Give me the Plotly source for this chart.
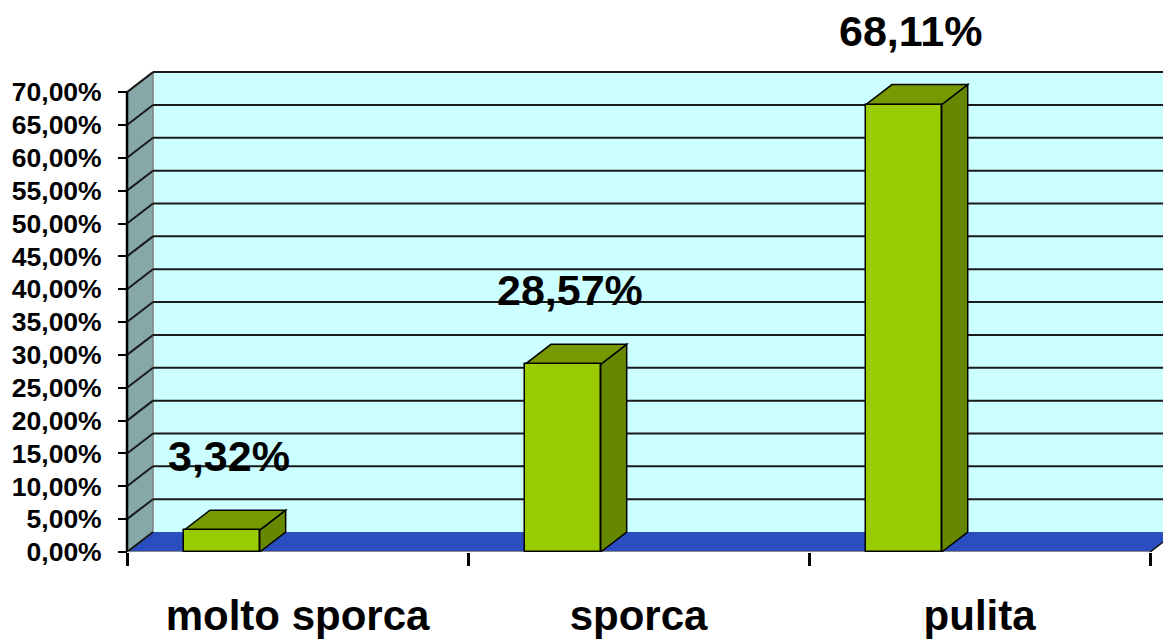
import plotly.graph_objects as go

# ---- data ----
categories = ["molto sporca", "sporca", "pulita"]
values = [0.0332, 0.2857, 0.6811]
y_ticks = [i * 0.05 for i in range(15)]  # 0,00% .. 70,00%

# ---- style constants ----
DX = 0.0762     # depth offset along x (data units)
DY = 0.0304     # depth offset along y (data units)
OFF = -0.333    # bar front-face left offset from category index
W = 0.222       # bar front-face width
X_MIN, X_MAX = -0.849, 2.5613
Y_MAX = 0.828
FONT = "Liberation Sans, Arial, sans-serif"

WALL = "#CCFFFF"
SIDE = "#86A8A8"
FLOOR = "#2A4DBF"
FRONT = "#99CC00"
TOP = "#779900"
RIGHT = "#668800"
GRID = "#1a1a1a"

n = len(categories)
xl, xr = -0.5, n - 0.5
ymax = y_ticks[-1]


def poly(pts):
    return "M " + " L ".join(f"{x},{y}" for x, y in pts) + " Z"


shapes = []
# back wall
shapes.append(dict(type="path", xref="x", yref="y", layer="below",
                   path=poly([(xl + DX, DY), (xr + DX, DY), (xr + DX, ymax + DY), (xl + DX, ymax + DY)]),
                   fillcolor=WALL, line=dict(width=0)))
# left side wall
shapes.append(dict(type="path", xref="x", yref="y", layer="below",
                   path=poly([(xl, 0), (xl, ymax), (xl + DX, ymax + DY), (xl + DX, DY)]),
                   fillcolor=SIDE, line=dict(width=0)))
# floor
shapes.append(dict(type="path", xref="x", yref="y", layer="below",
                   path=poly([(xl, 0), (xr, 0), (xr + DX, DY), (xl + DX, DY)]),
                   fillcolor=FLOOR, line=dict(width=0)))
# back wall left edge
shapes.append(dict(type="line", xref="x", yref="y", layer="below",
                   x0=xl + DX, x1=xl + DX, y0=DY, y1=ymax + DY,
                   line=dict(color="#808080", width=1.5)))
# gridlines
for t in y_ticks:
    if t > 0:
        shapes.append(dict(type="line", xref="x", yref="y", layer="below",
                           x0=xl + DX, x1=xr + DX + 0.2, y0=t + DY, y1=t + DY,
                           line=dict(color=GRID, width=2)))
    shapes.append(dict(type="line", xref="x", yref="y", layer="below",
                       x0=xl, x1=xl + DX, y0=t, y1=t + DY,
                       line=dict(color=GRID, width=2)))
# floor edges
shapes.append(dict(type="line", xref="x", yref="y", layer="below",
                   x0=xl, x1=xr, y0=0, y1=0, line=dict(color="#888888", width=2)))
shapes.append(dict(type="line", xref="x", yref="y", layer="below",
                   x0=xr, x1=xr + DX, y0=0, y1=DY, line=dict(color="#111111", width=1.5)))
# bar top and right faces
for i, v in enumerate(values):
    x0 = i + OFF
    x1 = x0 + W
    shapes.append(dict(type="path", xref="x", yref="y", layer="below",
                       path=poly([(x1, 0), (x1, v), (x1 + DX, v + DY), (x1 + DX, DY)]),
                       fillcolor=RIGHT, line=dict(color="black", width=1.5)))
    shapes.append(dict(type="path", xref="x", yref="y", layer="below",
                       path=poly([(x0, v), (x1, v), (x1 + DX, v + DY), (x0 + DX, v + DY)]),
                       fillcolor=TOP, line=dict(color="black", width=1.5)))
# front y axis line
shapes.append(dict(type="line", xref="x", yref="y", layer="above",
                   x0=xl, x1=xl, y0=0, y1=ymax, line=dict(color="black", width=2.5)))

fig = go.Figure()
fig.add_trace(go.Bar(
    x=list(range(n)), y=values, width=W, offset=OFF,
    marker=dict(color=FRONT, line=dict(color="black", width=1.5)),
    hoverinfo="skip", showlegend=False,
))

annotations = []
for i, v in enumerate(values):
    txt = f"{v * 100:.2f}".replace(".", ",") + "%"
    annotations.append(dict(x=i + OFF + W / 2 + 0.02, y=v, xref="x", yref="y",
                            text=txt, showarrow=False, yshift=74, yanchor="middle",
                            font=dict(family=FONT, size=43, color="black", weight="bold")))

fig.update_layout(
    width=1163, height=631,
    margin=dict(l=0, r=0, t=0, b=87),
    paper_bgcolor="white", plot_bgcolor="white",
    separators=",.",
    shapes=shapes, annotations=annotations,
    bargap=0,
    xaxis=dict(
        range=[X_MIN, X_MAX], tickvals=list(range(n)), ticktext=categories,
        ticks="", showgrid=False, zeroline=False, showline=False,
        tickfont=dict(family=FONT, size=42, color="black", weight="bold"),
        ticklabelstandoff=35,
        minor=dict(tickvals=[k - 0.5 for k in range(n + 1)], ticks="outside",
                   ticklen=13, tickwidth=2.5, tickcolor="black", showgrid=False),
    ),
    yaxis=dict(
        range=[0, Y_MAX], anchor="free", position=119 / 1163,
        tickvals=y_ticks, tickformat=".2%",
        ticks="outside", ticklen=9, tickwidth=2, tickcolor="black",
        showgrid=False, zeroline=False, showline=False,
        tickfont=dict(family=FONT, size=26.5, color="black", weight="bold"),
        ticklabelstandoff=11,
    ),
)

fig.write_html("out.html")
